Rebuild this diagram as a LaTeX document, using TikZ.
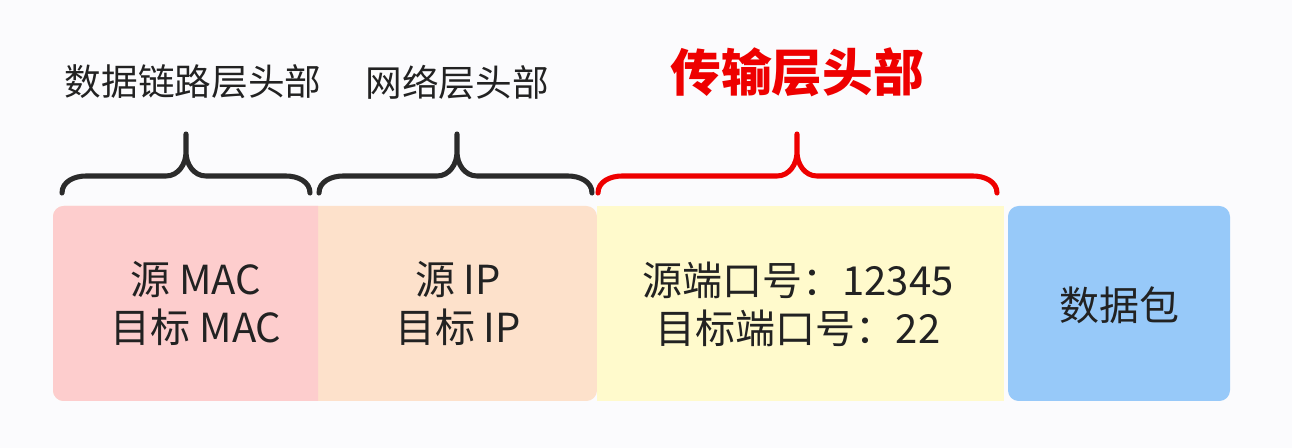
\documentclass[tikz,border=0pt]{standalone}
\usepackage{fontspec}
\setmainfont{Noto Sans CJK SC}
\definecolor{bgc}{HTML}{FBFBFD}
\definecolor{pinkc}{HTML}{FDCDCD}
\definecolor{peachc}{HTML}{FDE1CB}
\definecolor{yellowc}{HTML}{FFFACC}
\definecolor{bluec}{HTML}{97C9F9}
\definecolor{txtc}{HTML}{222222}
\definecolor{bracec}{HTML}{2B2B2B}
\definecolor{redc}{HTML}{EE0000}
\newcommand\mybrace[4]{% color, x0, x1, center
  \draw[#1,line width=3.8pt,line cap=round,line join=round]
    (#2,193) to[out=90,in=180] (#2+24,176) -- (#4-20,176)
    to[out=0,in=-90] (#4,152) -- (#4,134)
    (#4,152) to[out=-90,in=180] (#4+20,176) -- (#3-24,176)
    to[out=0,in=90] (#3,193);}
\begin{document}
\begin{tikzpicture}[x=0.75pt,y=-0.75pt,
  boxtext/.style={font=\fontsize{30}{36}\selectfont,text=txtc,align=center},
  toplabel/.style={font=\fontsize{27.5}{32}\selectfont,text=txtc},
  redlabel/.style={font=\fontsize{38}{42}\selectfont\bfseries,text=redc}]
\useasboundingbox[fill=bgc] (0,0) rectangle (1292,448);
% boxes
\fill[peachc,rounded corners=8pt] (53,206) rectangle (597,401);
\begin{scope}
  \clip (0,0) rectangle (318,448);
  \fill[pinkc,rounded corners=8pt] (53,206) rectangle (597,401);
\end{scope}
\fill[yellowc] (597,206) rectangle (1004,401);
\node[fill=bluec,rounded corners=8pt,minimum width=222*0.75pt,minimum height=195*0.75pt,inner sep=0pt] (data) at (1119,303.5) {};
\node[boxtext] (mac) at (196,304) {源 MAC\\目标 MAC};
\node[boxtext] (ip) at (458,304) {源 IP\\目标 IP};
\node[boxtext] (port) at (798,304) {源端口号：12345\\目标端口号：22};
\node[boxtext] (pkt) at (1119,305) {数据包};
% braces
\mybrace{bracec}{62}{310}{186}
\mybrace{bracec}{319}{592}{457}
\mybrace{redc}{598}{997}{797}
% labels
\node[toplabel] (l1) at (193,82) {数据链路层头部};
\node[toplabel] (l2) at (457,82) {网络层头部};
\node[redlabel] (l3) at (797,72) {传输层头部};
\end{tikzpicture}
\end{document}
